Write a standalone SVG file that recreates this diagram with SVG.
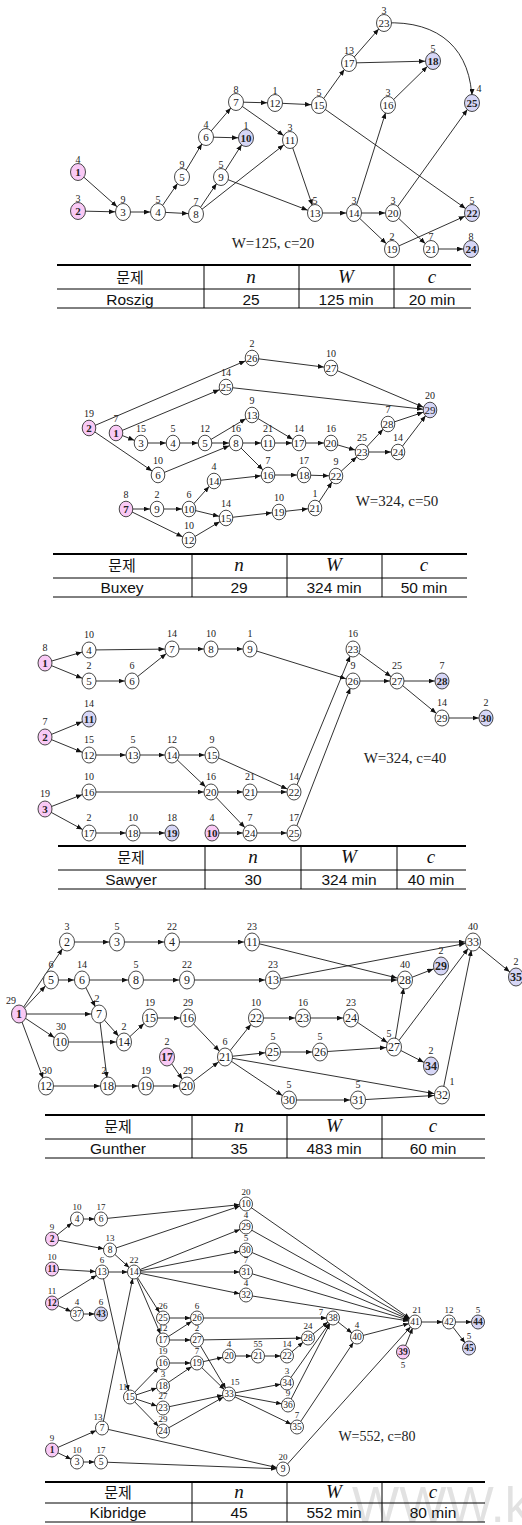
<svg xmlns="http://www.w3.org/2000/svg" width="522" height="1525" viewBox="0 0 522 1525">
<style>
.e line,.e path{stroke:#1a1a1a;stroke-width:0.9;fill:none}
.c1 line,.c1 path{marker-end:url(#m1)}
.c2 line{marker-end:url(#m2)}
.c3 line{marker-end:url(#m3)}
.c4 line{marker-end:url(#m4)}
.c5 line{marker-end:url(#m5)}
ellipse{fill:#fff;stroke:#333;stroke-width:0.9}
ellipse.p{fill:#f9c9f5}
ellipse.b{fill:#d6d6f6}
.s1 ellipse{rx:7.5px;ry:8.5px}
.s2 ellipse{rx:6.8px;ry:7.8px}
.s3 ellipse{rx:7px;ry:8px}
.s4 ellipse{rx:7.5px;ry:9px}
.s5 ellipse{rx:6.5px;ry:7px}
.t{font-family:"Liberation Serif",serif;text-anchor:middle;fill:#222;font-size:11px}
.s4 .t{font-size:12px}
.s5 .t{font-size:9.5px}
.bd{font-weight:bold}
.w{font-family:"Liberation Serif",serif;text-anchor:middle;fill:#222;font-size:10px}
.s5 .w{font-size:9px}
.ttl{font-family:"Liberation Serif",serif;text-anchor:middle;fill:#222;font-size:15px}
.tl line{stroke:#000;stroke-width:1}
.tl .top{stroke-width:1.8}
.kr{font-family:"Noto Sans CJK KR",sans-serif;font-size:15px;text-anchor:middle;fill:#111}
.mi{font-family:"Liberation Serif",serif;font-style:italic;font-size:19px;text-anchor:middle;fill:#111}
.dt{font-family:"Liberation Sans",sans-serif;font-size:15.5px;text-anchor:middle;fill:#111}
.wm{font-family:"Liberation Sans",sans-serif;font-size:50px;fill:#e2e2e2}
</style>
<defs>
<marker id="m1" markerUnits="userSpaceOnUse" markerWidth="6" markerHeight="5" refX="14" refY="2.5" orient="auto"><path d="M0,0L6,2.5L0,5z" fill="#111"/></marker>
<marker id="m2" markerUnits="userSpaceOnUse" markerWidth="6" markerHeight="5" refX="13.3" refY="2.5" orient="auto"><path d="M0,0L6,2.5L0,5z" fill="#111"/></marker>
<marker id="m3" markerUnits="userSpaceOnUse" markerWidth="6" markerHeight="5" refX="13.5" refY="2.5" orient="auto"><path d="M0,0L6,2.5L0,5z" fill="#111"/></marker>
<marker id="m4" markerUnits="userSpaceOnUse" markerWidth="6" markerHeight="5" refX="14.2" refY="2.5" orient="auto"><path d="M0,0L6,2.5L0,5z" fill="#111"/></marker>
<marker id="m5" markerUnits="userSpaceOnUse" markerWidth="5.5" markerHeight="4.5" refX="12" refY="2.25" orient="auto"><path d="M0,0L5.5,2.25L0,4.5z" fill="#111"/></marker>
</defs>
<rect width="522" height="1525" fill="#fff"/>
<text class="wm" x="352" y="1522">WWW.k</text>

<!-- ===== Section 1: Roszig ===== -->
<g id="roszig-connectors" class="e c1">
<line x1="78" y1="172" x2="123" y2="212"/>
<line x1="78" y1="211" x2="123" y2="212"/>
<line x1="123" y1="212" x2="158" y2="212"/>
<line x1="158" y1="212" x2="182" y2="177"/>
<line x1="158" y1="212" x2="196" y2="214"/>
<line x1="182" y1="177" x2="206" y2="137"/>
<line x1="206" y1="137" x2="236" y2="102"/>
<line x1="206" y1="137" x2="246" y2="138"/>
<line x1="236" y1="102" x2="275" y2="103"/>
<line x1="236" y1="102" x2="290" y2="140"/>
<line x1="196" y1="214" x2="221" y2="177"/>
<line x1="196" y1="214" x2="290" y2="140"/>
<line x1="221" y1="177" x2="246" y2="138"/>
<line x1="221" y1="177" x2="315" y2="213"/>
<line x1="290" y1="140" x2="315" y2="213"/>
<line x1="275" y1="103" x2="319" y2="105"/>
<line x1="315" y1="213" x2="354" y2="213"/>
<line x1="354" y1="213" x2="388" y2="105"/>
<line x1="354" y1="213" x2="393" y2="213"/>
<line x1="354" y1="213" x2="392" y2="249"/>
<line x1="319" y1="105" x2="349" y2="63"/>
<line x1="319" y1="105" x2="472" y2="213"/>
<line x1="349" y1="63" x2="384" y2="23"/>
<line x1="349" y1="63" x2="433" y2="61"/>
<line x1="388" y1="105" x2="433" y2="61"/>
<line x1="393" y1="213" x2="472" y2="103"/>
<line x1="393" y1="213" x2="431" y2="249"/>
<line x1="392" y1="249" x2="472" y2="213"/>
<line x1="431" y1="249" x2="471" y2="249"/>
<path d="M384,23 C440,20 472,50 472,103"/>
</g>
<g class="s1">
<g id="r1"><ellipse class="p" cx="78" cy="172"/><text class="t bd" x="78" y="176">1</text><text class="w" x="78" y="162.5">4</text></g>
<g id="r2"><ellipse class="p" cx="78" cy="211"/><text class="t bd" x="78" y="215">2</text><text class="w" x="78" y="201.5">3</text></g>
<g id="r3"><ellipse cx="123" cy="212"/><text class="t" x="123" y="216">3</text><text class="w" x="123" y="202.5">9</text></g>
<g id="r4"><ellipse cx="158" cy="212"/><text class="t" x="158" y="216">4</text><text class="w" x="158" y="202.5">5</text></g>
<g id="r5"><ellipse cx="182" cy="177"/><text class="t" x="182" y="181">5</text><text class="w" x="182" y="167.5">9</text></g>
<g id="r6"><ellipse cx="206" cy="137"/><text class="t" x="206" y="141">6</text><text class="w" x="206" y="127.5">4</text></g>
<g id="r7"><ellipse cx="236" cy="102"/><text class="t" x="236" y="106">7</text><text class="w" x="236" y="92.5">8</text></g>
<g id="r8"><ellipse cx="196" cy="214"/><text class="t" x="196" y="218">8</text><text class="w" x="196" y="204.5">7</text></g>
<g id="r9"><ellipse cx="221" cy="177"/><text class="t" x="221" y="181">9</text><text class="w" x="221" y="167.5">5</text></g>
<g id="r10"><ellipse class="b" cx="246" cy="138"/><text class="t bd" x="246" y="142">10</text><text class="w" x="246" y="128.5">1</text></g>
<g id="r11"><ellipse cx="290" cy="140"/><text class="t" x="290" y="144">11</text><text class="w" x="290" y="130.5">3</text></g>
<g id="r12"><ellipse cx="275" cy="103"/><text class="t" x="275" y="107">12</text><text class="w" x="275" y="93.5">1</text></g>
<g id="r13"><ellipse cx="315" cy="213"/><text class="t" x="315" y="217">13</text><text class="w" x="315" y="203.5">5</text></g>
<g id="r14"><ellipse cx="354" cy="213"/><text class="t" x="354" y="217">14</text><text class="w" x="354" y="203.5">3</text></g>
<g id="r15"><ellipse cx="319" cy="105"/><text class="t" x="319" y="109">15</text><text class="w" x="319" y="95.5">5</text></g>
<g id="r16"><ellipse cx="388" cy="105"/><text class="t" x="388" y="109">16</text><text class="w" x="388" y="95.5">3</text></g>
<g id="r17"><ellipse cx="349" cy="63"/><text class="t" x="349" y="67">17</text><text class="w" x="349" y="53.5">13</text></g>
<g id="r18"><ellipse class="b" cx="433" cy="61"/><text class="t bd" x="433" y="65">18</text><text class="w" x="433" y="51.5">5</text></g>
<g id="r19"><ellipse cx="392" cy="249"/><text class="t" x="392" y="253">19</text><text class="w" x="392" y="239.5">2</text></g>
<g id="r20"><ellipse cx="393" cy="213"/><text class="t" x="393" y="217">20</text><text class="w" x="393" y="203.5">3</text></g>
<g id="r21"><ellipse cx="431" cy="249"/><text class="t" x="431" y="253">21</text><text class="w" x="431" y="239.5">7</text></g>
<g id="r22"><ellipse class="b" cx="472" cy="213"/><text class="t bd" x="472" y="217">22</text><text class="w" x="472" y="203.5">5</text></g>
<g id="r23"><ellipse cx="384" cy="23"/><text class="t" x="384" y="27">23</text><text class="w" x="384" y="13.5">3</text></g>
<g id="r24"><ellipse class="b" cx="471" cy="249"/><text class="t bd" x="471" y="253">24</text><text class="w" x="471" y="239.5">8</text></g>
<g id="r25"><ellipse class="b" cx="472" cy="103"/><text class="t bd" x="472" y="107">25</text><text class="w" x="479" y="92">4</text></g>
</g>
<text class="ttl" x="273" y="248">W=125, c=20</text>
<g id="table-roszig" class="tl">
<line class="top" x1="57" y1="265" x2="471" y2="265"/>
<line x1="57" y1="289" x2="471" y2="289"/>
<line x1="57" y1="308" x2="471" y2="308"/>
<line x1="204" y1="265" x2="204" y2="308"/>
<line x1="299" y1="265" x2="299" y2="308"/>
<line x1="394" y1="265" x2="394" y2="308"/>
<text class="kr" x="130" y="283">문제</text><text class="mi" x="251" y="283">n</text><text class="mi" x="346" y="283">W</text><text class="mi" x="432" y="283">c</text>
<text class="dt" x="130" y="305">Roszig</text><text class="dt" x="251" y="305">25</text><text class="dt" x="346" y="305">125 min</text><text class="dt" x="432" y="305">20 min</text>
</g>

<!-- ===== Section 2: Buxey ===== -->
<g id="buxey-connectors" class="e c2">
<line x1="89" y1="428" x2="252" y2="358"/>
<line x1="89" y1="428" x2="158" y2="475"/>
<line x1="116" y1="433" x2="226" y2="387"/>
<line x1="116" y1="433" x2="141" y2="443"/>
<line x1="141" y1="443" x2="173" y2="443"/>
<line x1="173" y1="443" x2="205" y2="443"/>
<line x1="205" y1="443" x2="252" y2="415"/>
<line x1="205" y1="443" x2="236" y2="443"/>
<line x1="158" y1="475" x2="236" y2="443"/>
<line x1="236" y1="443" x2="268" y2="443"/>
<line x1="236" y1="443" x2="268" y2="475"/>
<line x1="252" y1="415" x2="299" y2="443"/>
<line x1="268" y1="443" x2="299" y2="443"/>
<line x1="299" y1="443" x2="331" y2="443"/>
<line x1="331" y1="443" x2="362" y2="452"/>
<line x1="268" y1="475" x2="304" y2="475"/>
<line x1="304" y1="475" x2="336" y2="476"/>
<line x1="214" y1="481" x2="268" y2="475"/>
<line x1="189" y1="509" x2="214" y2="481"/>
<line x1="189" y1="509" x2="226" y2="518"/>
<line x1="157" y1="509" x2="189" y2="509"/>
<line x1="126" y1="509" x2="157" y2="509"/>
<line x1="126" y1="509" x2="189" y2="540"/>
<line x1="189" y1="540" x2="226" y2="518"/>
<line x1="226" y1="518" x2="279" y2="512"/>
<line x1="279" y1="512" x2="315" y2="508"/>
<line x1="315" y1="508" x2="336" y2="476"/>
<line x1="336" y1="476" x2="362" y2="452"/>
<line x1="362" y1="452" x2="388" y2="424"/>
<line x1="362" y1="452" x2="398" y2="452"/>
<line x1="388" y1="424" x2="430" y2="410"/>
<line x1="398" y1="452" x2="430" y2="410"/>
<line x1="252" y1="358" x2="331" y2="368"/>
<line x1="331" y1="368" x2="430" y2="410"/>
<line x1="226" y1="387" x2="430" y2="410"/>
</g>
<g class="s2">
<g id="b2"><ellipse class="p" cx="89" cy="428"/><text class="t bd" x="89" y="432">2</text><text class="w" x="89" y="416.5">19</text></g>
<g id="b1"><ellipse class="p" cx="116" cy="433"/><text class="t bd" x="116" y="437">1</text><text class="w" x="116" y="421.5">7</text></g>
<g id="b3"><ellipse cx="141" cy="443"/><text class="t" x="141" y="447">3</text><text class="w" x="141" y="431.5">15</text></g>
<g id="b4"><ellipse cx="173" cy="443"/><text class="t" x="173" y="447">4</text><text class="w" x="173" y="431.5">5</text></g>
<g id="b5"><ellipse cx="205" cy="443"/><text class="t" x="205" y="447">5</text><text class="w" x="205" y="431.5">12</text></g>
<g id="b8"><ellipse cx="236" cy="443"/><text class="t" x="236" y="447">8</text><text class="w" x="236" y="431.5">16</text></g>
<g id="b11"><ellipse cx="268" cy="443"/><text class="t" x="268" y="447">11</text><text class="w" x="268" y="431.5">21</text></g>
<g id="b13"><ellipse cx="252" cy="415"/><text class="t" x="252" y="419">13</text><text class="w" x="252" y="403.5">9</text></g>
<g id="b26"><ellipse cx="252" cy="358"/><text class="t" x="252" y="362">26</text><text class="w" x="252" y="346.5">2</text></g>
<g id="b25"><ellipse cx="226" cy="387"/><text class="t" x="226" y="391">25</text><text class="w" x="226" y="375.5">14</text></g>
<g id="b6"><ellipse cx="158" cy="475"/><text class="t" x="158" y="479">6</text><text class="w" x="158" y="463.5">10</text></g>
<g id="b14"><ellipse cx="214" cy="481"/><text class="t" x="214" y="485">14</text><text class="w" x="214" y="469.5">4</text></g>
<g id="b16"><ellipse cx="268" cy="475"/><text class="t" x="268" y="479">16</text><text class="w" x="268" y="463.5">7</text></g>
<g id="b7"><ellipse class="p" cx="126" cy="509"/><text class="t bd" x="126" y="513">7</text><text class="w" x="126" y="497.5">8</text></g>
<g id="b9"><ellipse cx="157" cy="509"/><text class="t" x="157" y="513">9</text><text class="w" x="157" y="497.5">2</text></g>
<g id="b10"><ellipse cx="189" cy="509"/><text class="t" x="189" y="513">10</text><text class="w" x="189" y="497.5">6</text></g>
<g id="b15"><ellipse cx="226" cy="518"/><text class="t" x="226" y="522">15</text><text class="w" x="226" y="506.5">14</text></g>
<g id="b19"><ellipse cx="279" cy="512"/><text class="t" x="279" y="516">19</text><text class="w" x="279" y="500.5">10</text></g>
<g id="b12"><ellipse cx="189" cy="540"/><text class="t" x="189" y="544">12</text><text class="w" x="189" y="528.5">10</text></g>
<g id="b27"><ellipse cx="331" cy="368"/><text class="t" x="331" y="372">27</text><text class="w" x="331" y="356.5">10</text></g>
<g id="b29"><ellipse class="b" cx="430" cy="410"/><text class="t" x="430" y="414">29</text><text class="w" x="430" y="398.5">20</text></g>
<g id="b28"><ellipse cx="388" cy="424"/><text class="t" x="388" y="428">28</text><text class="w" x="388" y="412.5">7</text></g>
<g id="b17"><ellipse cx="299" cy="443"/><text class="t" x="299" y="447">17</text><text class="w" x="299" y="431.5">14</text></g>
<g id="b20"><ellipse cx="331" cy="443"/><text class="t" x="331" y="447">20</text><text class="w" x="331" y="431.5">16</text></g>
<g id="b23"><ellipse cx="362" cy="452"/><text class="t" x="362" y="456">23</text><text class="w" x="362" y="440.5">25</text></g>
<g id="b24"><ellipse cx="398" cy="452"/><text class="t" x="398" y="456">24</text><text class="w" x="398" y="440.5">14</text></g>
<g id="b18"><ellipse cx="304" cy="475"/><text class="t" x="304" y="479">18</text><text class="w" x="304" y="463.5">17</text></g>
<g id="b22"><ellipse cx="336" cy="476"/><text class="t" x="336" y="480">22</text><text class="w" x="336" y="464.5">9</text></g>
<g id="b21"><ellipse cx="315" cy="508"/><text class="t" x="315" y="512">21</text><text class="w" x="315" y="496.5">1</text></g>
</g>
<text class="ttl" x="397" y="506">W=324, c=50</text>
<g id="table-buxey" class="tl">
<line class="top" x1="53" y1="554" x2="467" y2="554"/>
<line x1="53" y1="578" x2="467" y2="578"/>
<line x1="53" y1="597" x2="467" y2="597"/>
<line x1="192" y1="554" x2="192" y2="597"/>
<line x1="287" y1="554" x2="287" y2="597"/>
<line x1="382" y1="554" x2="382" y2="597"/>
<text class="kr" x="122" y="571">문제</text><text class="mi" x="239" y="571">n</text><text class="mi" x="334" y="571">W</text><text class="mi" x="424" y="571">c</text>
<text class="dt" x="122" y="593">Buxey</text><text class="dt" x="239" y="593">29</text><text class="dt" x="334" y="593">324 min</text><text class="dt" x="424" y="593">50 min</text>
</g>

<!-- ===== Section 3: Sawyer ===== -->
<g id="sawyer-connectors" class="e c3">
<line x1="45" y1="663" x2="89" y2="650"/>
<line x1="45" y1="663" x2="89" y2="681"/>
<line x1="89" y1="650" x2="172" y2="649"/>
<line x1="89" y1="681" x2="132" y2="681"/>
<line x1="132" y1="681" x2="172" y2="649"/>
<line x1="172" y1="649" x2="211" y2="649"/>
<line x1="211" y1="649" x2="250" y2="649"/>
<line x1="250" y1="649" x2="353" y2="681"/>
<line x1="45" y1="737" x2="89" y2="719"/>
<line x1="45" y1="737" x2="89" y2="755"/>
<line x1="89" y1="755" x2="133" y2="755"/>
<line x1="133" y1="755" x2="172" y2="755"/>
<line x1="172" y1="755" x2="212" y2="755"/>
<line x1="172" y1="755" x2="211" y2="792"/>
<line x1="212" y1="755" x2="294" y2="792"/>
<line x1="45" y1="809" x2="89" y2="792"/>
<line x1="45" y1="809" x2="89" y2="833"/>
<line x1="89" y1="792" x2="211" y2="792"/>
<line x1="211" y1="792" x2="250" y2="792"/>
<line x1="250" y1="792" x2="294" y2="792"/>
<line x1="211" y1="792" x2="250" y2="833"/>
<line x1="89" y1="833" x2="133" y2="833"/>
<line x1="133" y1="833" x2="172" y2="833"/>
<line x1="212" y1="833" x2="250" y2="833"/>
<line x1="250" y1="833" x2="294" y2="833"/>
<line x1="294" y1="792" x2="353" y2="649"/>
<line x1="294" y1="833" x2="353" y2="681"/>
<line x1="353" y1="649" x2="397" y2="681"/>
<line x1="353" y1="681" x2="397" y2="681"/>
<line x1="397" y1="681" x2="442" y2="681"/>
<line x1="397" y1="681" x2="442" y2="718"/>
<line x1="442" y1="718" x2="486" y2="718"/>
</g>
<g class="s3">
<g id="x1"><ellipse class="p" cx="45" cy="663"/><text class="t bd" x="45" y="667">1</text><text class="w" x="45" y="651">8</text></g>
<g id="x4"><ellipse cx="89" cy="650"/><text class="t" x="89" y="654">4</text><text class="w" x="89" y="638">10</text></g>
<g id="x5"><ellipse cx="89" cy="681"/><text class="t" x="89" y="685">5</text><text class="w" x="89" y="669">2</text></g>
<g id="x6"><ellipse cx="132" cy="681"/><text class="t" x="132" y="685">6</text><text class="w" x="132" y="669">6</text></g>
<g id="x7"><ellipse cx="172" cy="649"/><text class="t" x="172" y="653">7</text><text class="w" x="172" y="637">14</text></g>
<g id="x8"><ellipse cx="211" cy="649"/><text class="t" x="211" y="653">8</text><text class="w" x="211" y="637">10</text></g>
<g id="x9"><ellipse cx="250" cy="649"/><text class="t" x="250" y="653">9</text><text class="w" x="250" y="637">1</text></g>
<g id="x2"><ellipse class="p" cx="45" cy="737"/><text class="t bd" x="45" y="741">2</text><text class="w" x="45" y="725">7</text></g>
<g id="x11"><ellipse class="b" cx="89" cy="719"/><text class="t bd" x="89" y="723">11</text><text class="w" x="89" y="707">14</text></g>
<g id="x12"><ellipse cx="89" cy="755"/><text class="t" x="89" y="759">12</text><text class="w" x="89" y="743">15</text></g>
<g id="x13"><ellipse cx="133" cy="755"/><text class="t" x="133" y="759">13</text><text class="w" x="133" y="743">5</text></g>
<g id="x14"><ellipse cx="172" cy="755"/><text class="t" x="172" y="759">14</text><text class="w" x="172" y="743">12</text></g>
<g id="x15"><ellipse cx="212" cy="755"/><text class="t" x="212" y="759">15</text><text class="w" x="212" y="743">9</text></g>
<g id="x3"><ellipse class="p" cx="45" cy="809"/><text class="t bd" x="45" y="813">3</text><text class="w" x="45" y="797">19</text></g>
<g id="x16"><ellipse cx="89" cy="792"/><text class="t" x="89" y="796">16</text><text class="w" x="89" y="780">10</text></g>
<g id="x20"><ellipse cx="211" cy="792"/><text class="t" x="211" y="796">20</text><text class="w" x="211" y="780">16</text></g>
<g id="x21"><ellipse cx="250" cy="792"/><text class="t" x="250" y="796">21</text><text class="w" x="250" y="780">21</text></g>
<g id="x17"><ellipse cx="89" cy="833"/><text class="t" x="89" y="837">17</text><text class="w" x="89" y="821">2</text></g>
<g id="x18"><ellipse cx="133" cy="833"/><text class="t" x="133" y="837">18</text><text class="w" x="133" y="821">10</text></g>
<g id="x19"><ellipse class="b" cx="172" cy="833"/><text class="t bd" x="172" y="837">19</text><text class="w" x="172" y="821">18</text></g>
<g id="x10"><ellipse class="p" cx="212" cy="833"/><text class="t bd" x="212" y="837">10</text><text class="w" x="212" y="821">4</text></g>
<g id="x24"><ellipse cx="250" cy="833"/><text class="t" x="250" y="837">24</text><text class="w" x="250" y="821">7</text></g>
<g id="x22"><ellipse cx="294" cy="792"/><text class="t" x="294" y="796">22</text><text class="w" x="294" y="780">14</text></g>
<g id="x25"><ellipse cx="294" cy="833"/><text class="t" x="294" y="837">25</text><text class="w" x="294" y="821">17</text></g>
<g id="x23"><ellipse cx="353" cy="649"/><text class="t" x="353" y="653">23</text><text class="w" x="353" y="637">16</text></g>
<g id="x26"><ellipse cx="353" cy="681"/><text class="t" x="353" y="685">26</text><text class="w" x="353" y="669">9</text></g>
<g id="x27"><ellipse cx="397" cy="681"/><text class="t" x="397" y="685">27</text><text class="w" x="397" y="669">25</text></g>
<g id="x28"><ellipse class="b" cx="442" cy="681"/><text class="t bd" x="442" y="685">28</text><text class="w" x="442" y="669">7</text></g>
<g id="x29"><ellipse cx="442" cy="718"/><text class="t" x="442" y="722">29</text><text class="w" x="442" y="706">14</text></g>
<g id="x30"><ellipse class="b" cx="486" cy="718"/><text class="t bd" x="486" y="722">30</text><text class="w" x="486" y="706">2</text></g>
</g>
<text class="ttl" x="405" y="763">W=324, c=40</text>
<g id="table-sawyer" class="tl">
<line class="top" x1="58" y1="846" x2="466" y2="846"/>
<line x1="58" y1="870" x2="466" y2="870"/>
<line x1="58" y1="889" x2="466" y2="889"/>
<line x1="205" y1="846" x2="205" y2="889"/>
<line x1="301" y1="846" x2="301" y2="889"/>
<line x1="397" y1="846" x2="397" y2="889"/>
<text class="kr" x="131" y="863">문제</text><text class="mi" x="253" y="863">n</text><text class="mi" x="349" y="863">W</text><text class="mi" x="431" y="863">c</text>
<text class="dt" x="131" y="885">Sawyer</text><text class="dt" x="253" y="885">30</text><text class="dt" x="349" y="885">324 min</text><text class="dt" x="431" y="885">40 min</text>
</g>

<!-- ===== Section 4: Gunther ===== -->
<g id="gunther-connectors" class="e c4">
<line x1="19" y1="1014" x2="67" y2="942"/>
<line x1="19" y1="1014" x2="51" y2="980"/>
<line x1="19" y1="1014" x2="99" y2="1014"/>
<line x1="19" y1="1014" x2="61" y2="1042"/>
<line x1="19" y1="1014" x2="46" y2="1086"/>
<line x1="67" y1="942" x2="117" y2="942"/>
<line x1="117" y1="942" x2="172" y2="942"/>
<line x1="172" y1="942" x2="252" y2="942"/>
<line x1="51" y1="980" x2="82" y2="980"/>
<line x1="82" y1="980" x2="136" y2="980"/>
<line x1="82" y1="980" x2="99" y2="1014"/>
<line x1="136" y1="980" x2="187" y2="980"/>
<line x1="187" y1="980" x2="273" y2="980"/>
<line x1="99" y1="1014" x2="124" y2="1042"/>
<line x1="99" y1="1014" x2="108" y2="1086"/>
<line x1="61" y1="1042" x2="124" y2="1042"/>
<line x1="124" y1="1042" x2="150" y2="1018"/>
<line x1="150" y1="1018" x2="188" y2="1018"/>
<line x1="188" y1="1018" x2="225" y2="1057"/>
<line x1="46" y1="1086" x2="108" y2="1086"/>
<line x1="108" y1="1086" x2="146" y2="1086"/>
<line x1="146" y1="1086" x2="187" y2="1086"/>
<line x1="167" y1="1057" x2="187" y2="1086"/>
<line x1="187" y1="1086" x2="225" y2="1057"/>
<line x1="225" y1="1057" x2="256" y2="1018"/>
<line x1="225" y1="1057" x2="273" y2="1052"/>
<line x1="225" y1="1057" x2="442" y2="1095"/>
<line x1="225" y1="1057" x2="289" y2="1100"/>
<line x1="256" y1="1018" x2="303" y2="1018"/>
<line x1="303" y1="1018" x2="351" y2="1018"/>
<line x1="351" y1="1018" x2="394" y2="1047"/>
<line x1="273" y1="1052" x2="320" y2="1052"/>
<line x1="320" y1="1052" x2="394" y2="1047"/>
<line x1="394" y1="1047" x2="405" y2="980"/>
<line x1="394" y1="1047" x2="473" y2="942"/>
<line x1="394" y1="1047" x2="431" y2="1066"/>
<line x1="405" y1="980" x2="441" y2="966"/>
<line x1="273" y1="980" x2="405" y2="980"/>
<line x1="273" y1="980" x2="473" y2="942"/>
<line x1="252" y1="942" x2="473" y2="942"/>
<line x1="252" y1="942" x2="405" y2="980"/>
<line x1="289" y1="1100" x2="358" y2="1100"/>
<line x1="358" y1="1100" x2="442" y2="1095"/>
<line x1="442" y1="1095" x2="473" y2="942"/>
<line x1="473" y1="942" x2="516" y2="977"/>
</g>
<g class="s4">
<g id="g1"><ellipse class="p" cx="19" cy="1014"/><text class="t bd" x="19" y="1018">1</text><text class="w" x="11" y="1004">29</text></g>
<g id="g2"><ellipse cx="67" cy="942"/><text class="t" x="67" y="946">2</text><text class="w" x="67" y="929.5">3</text></g>
<g id="g3"><ellipse cx="117" cy="942"/><text class="t" x="117" y="946">3</text><text class="w" x="117" y="929.5">5</text></g>
<g id="g4"><ellipse cx="172" cy="942"/><text class="t" x="172" y="946">4</text><text class="w" x="172" y="929.5">22</text></g>
<g id="g11"><ellipse cx="252" cy="942"/><text class="t" x="252" y="946">11</text><text class="w" x="252" y="929.5">23</text></g>
<g id="g5"><ellipse cx="51" cy="980"/><text class="t" x="51" y="984">5</text><text class="w" x="51" y="967.5">6</text></g>
<g id="g6"><ellipse cx="82" cy="980"/><text class="t" x="82" y="984">6</text><text class="w" x="82" y="967.5">14</text></g>
<g id="g8"><ellipse cx="136" cy="980"/><text class="t" x="136" y="984">8</text><text class="w" x="136" y="967.5">5</text></g>
<g id="g9"><ellipse cx="187" cy="980"/><text class="t" x="187" y="984">9</text><text class="w" x="187" y="967.5">22</text></g>
<g id="g13"><ellipse cx="273" cy="980"/><text class="t" x="273" y="984">13</text><text class="w" x="273" y="967.5">23</text></g>
<g id="g7"><ellipse cx="99" cy="1014"/><text class="t" x="99" y="1018">7</text><text class="w" x="97" y="1001.5">2</text></g>
<g id="g10"><ellipse cx="61" cy="1042"/><text class="t" x="61" y="1046">10</text><text class="w" x="61" y="1029.5">30</text></g>
<g id="g14"><ellipse cx="124" cy="1042"/><text class="t" x="124" y="1046">14</text><text class="w" x="124" y="1029.5">2</text></g>
<g id="g15"><ellipse cx="150" cy="1018"/><text class="t" x="150" y="1022">15</text><text class="w" x="150" y="1005.5">19</text></g>
<g id="g16"><ellipse cx="188" cy="1018"/><text class="t" x="188" y="1022">16</text><text class="w" x="188" y="1005.5">29</text></g>
<g id="g17"><ellipse class="p" cx="167" cy="1057"/><text class="t bd" x="167" y="1061">17</text><text class="w" x="167" y="1044.5">2</text></g>
<g id="g21"><ellipse cx="225" cy="1057"/><text class="t" x="225" y="1061">21</text><text class="w" x="225" y="1044.5">6</text></g>
<g id="g22"><ellipse cx="256" cy="1018"/><text class="t" x="256" y="1022">22</text><text class="w" x="256" y="1005.5">10</text></g>
<g id="g23"><ellipse cx="303" cy="1018"/><text class="t" x="303" y="1022">23</text><text class="w" x="303" y="1005.5">16</text></g>
<g id="g24"><ellipse cx="351" cy="1018"/><text class="t" x="351" y="1022">24</text><text class="w" x="351" y="1005.5">23</text></g>
<g id="g27"><ellipse cx="394" cy="1047"/><text class="t" x="394" y="1051">27</text><text class="w" x="389" y="1036.5">5</text></g>
<g id="g25"><ellipse cx="273" cy="1052"/><text class="t" x="273" y="1056">25</text><text class="w" x="273" y="1039.5">5</text></g>
<g id="g26"><ellipse cx="320" cy="1052"/><text class="t" x="320" y="1056">26</text><text class="w" x="320" y="1039.5">5</text></g>
<g id="g34"><ellipse class="b" cx="431" cy="1066"/><text class="t bd" x="431" y="1070">34</text><text class="w" x="431" y="1053.5">2</text></g>
<g id="g12"><ellipse cx="46" cy="1086"/><text class="t" x="46" y="1090">12</text><text class="w" x="47" y="1073.5">30</text></g>
<g id="g18"><ellipse cx="108" cy="1086"/><text class="t" x="108" y="1090">18</text><text class="w" x="104" y="1073.5">2</text></g>
<g id="g19"><ellipse cx="146" cy="1086"/><text class="t" x="146" y="1090">19</text><text class="w" x="146" y="1073.5">19</text></g>
<g id="g20"><ellipse cx="187" cy="1086"/><text class="t" x="187" y="1090">20</text><text class="w" x="188" y="1073.5">29</text></g>
<g id="g30"><ellipse cx="289" cy="1100"/><text class="t" x="289" y="1104">30</text><text class="w" x="289" y="1087.5">5</text></g>
<g id="g31"><ellipse cx="358" cy="1100"/><text class="t" x="358" y="1104">31</text><text class="w" x="358" y="1087.5">5</text></g>
<g id="g32"><ellipse cx="442" cy="1095"/><text class="t" x="442" y="1099">32</text><text class="w" x="452" y="1085">1</text></g>
<g id="g28"><ellipse cx="405" cy="980"/><text class="t" x="405" y="984">28</text><text class="w" x="405" y="967.5">40</text></g>
<g id="g29"><ellipse class="b" cx="441" cy="966"/><text class="t bd" x="441" y="970">29</text><text class="w" x="441" y="953.5">2</text></g>
<g id="g33"><ellipse cx="473" cy="942"/><text class="t" x="473" y="946">33</text><text class="w" x="473" y="929.5">40</text></g>
<g id="g35"><ellipse class="b" cx="516" cy="977"/><text class="t bd" x="516" y="981">35</text><text class="w" x="516" y="964.5">2</text></g>
</g>
<g id="table-gunther" class="tl">
<line class="top" x1="45" y1="1115" x2="485" y2="1115"/>
<line x1="45" y1="1139" x2="485" y2="1139"/>
<line x1="45" y1="1158" x2="485" y2="1158"/>
<line x1="192" y1="1115" x2="192" y2="1158"/>
<line x1="287" y1="1115" x2="287" y2="1158"/>
<line x1="382" y1="1115" x2="382" y2="1158"/>
<text class="kr" x="118" y="1132">문제</text><text class="mi" x="239" y="1132">n</text><text class="mi" x="334" y="1132">W</text><text class="mi" x="433" y="1132">c</text>
<text class="dt" x="118" y="1154">Gunther</text><text class="dt" x="239" y="1154">35</text><text class="dt" x="334" y="1154">483 min</text><text class="dt" x="433" y="1154">60 min</text>
</g>

<!-- ===== Section 5: Kibridge ===== -->
<g id="kibridge-connectors" class="e c5">
<line x1="52" y1="1239" x2="77" y2="1219"/>
<line x1="77" y1="1219" x2="101" y2="1219"/>
<line x1="101" y1="1219" x2="246" y2="1204"/>
<line x1="52" y1="1239" x2="110" y2="1250"/>
<line x1="110" y1="1250" x2="246" y2="1204"/>
<line x1="110" y1="1250" x2="134" y2="1272"/>
<line x1="52" y1="1269" x2="102" y2="1272"/>
<line x1="52" y1="1303" x2="102" y2="1272"/>
<line x1="102" y1="1272" x2="134" y2="1272"/>
<line x1="52" y1="1303" x2="77" y2="1314"/>
<line x1="77" y1="1314" x2="101" y2="1314"/>
<line x1="102" y1="1272" x2="130" y2="1397"/>
<line x1="102" y1="1428" x2="134" y2="1272"/>
<line x1="52" y1="1450" x2="102" y2="1428"/>
<line x1="52" y1="1450" x2="77" y2="1462"/>
<line x1="77" y1="1462" x2="101" y2="1462"/>
<line x1="101" y1="1462" x2="283" y2="1469"/>
<line x1="102" y1="1428" x2="283" y2="1469"/>
<line x1="134" y1="1272" x2="246" y2="1227"/>
<line x1="134" y1="1272" x2="246" y2="1250"/>
<line x1="134" y1="1272" x2="246" y2="1272"/>
<line x1="134" y1="1272" x2="246" y2="1295"/>
<line x1="134" y1="1272" x2="163" y2="1318"/>
<line x1="134" y1="1272" x2="163" y2="1340"/>
<line x1="163" y1="1318" x2="197" y2="1318"/>
<line x1="163" y1="1340" x2="197" y2="1318"/>
<line x1="163" y1="1340" x2="197" y2="1340"/>
<line x1="197" y1="1340" x2="229" y2="1394"/>
<line x1="163" y1="1363" x2="197" y2="1363"/>
<line x1="163" y1="1386" x2="197" y2="1363"/>
<line x1="197" y1="1363" x2="229" y2="1356"/>
<line x1="197" y1="1363" x2="229" y2="1394"/>
<line x1="229" y1="1356" x2="258" y2="1356"/>
<line x1="258" y1="1356" x2="287" y2="1356"/>
<line x1="287" y1="1356" x2="308" y2="1338"/>
<line x1="308" y1="1338" x2="333" y2="1318"/>
<line x1="130" y1="1397" x2="163" y2="1363"/>
<line x1="130" y1="1397" x2="163" y2="1386"/>
<line x1="130" y1="1397" x2="163" y2="1408"/>
<line x1="130" y1="1397" x2="163" y2="1431"/>
<line x1="163" y1="1408" x2="229" y2="1394"/>
<line x1="163" y1="1431" x2="229" y2="1394"/>
<line x1="229" y1="1394" x2="287" y2="1383"/>
<line x1="229" y1="1394" x2="288" y2="1405"/>
<line x1="229" y1="1394" x2="297" y2="1427"/>
<line x1="287" y1="1383" x2="333" y2="1318"/>
<line x1="288" y1="1405" x2="333" y2="1318"/>
<line x1="297" y1="1427" x2="357" y2="1337"/>
<line x1="333" y1="1318" x2="357" y2="1337"/>
<line x1="357" y1="1337" x2="415" y2="1322"/>
<line x1="197" y1="1318" x2="333" y2="1318"/>
<line x1="197" y1="1340" x2="308" y2="1338"/>
<line x1="246" y1="1204" x2="415" y2="1322"/>
<line x1="246" y1="1227" x2="415" y2="1322"/>
<line x1="246" y1="1250" x2="415" y2="1322"/>
<line x1="246" y1="1272" x2="415" y2="1322"/>
<line x1="246" y1="1295" x2="415" y2="1322"/>
<line x1="283" y1="1469" x2="415" y2="1322"/>
<line x1="403" y1="1352" x2="415" y2="1322"/>
<line x1="415" y1="1322" x2="449" y2="1322"/>
<line x1="449" y1="1322" x2="478" y2="1322"/>
<line x1="449" y1="1322" x2="469" y2="1348"/>
</g>
<g class="s5">
<g id="k2"><ellipse class="p" cx="52" cy="1239"/><text class="t bd" x="52" y="1242.3">2</text><text class="w" x="52" y="1230">9</text></g>
<g id="k4"><ellipse cx="77" cy="1219"/><text class="t" x="77" y="1222.3">4</text><text class="w" x="77" y="1210">10</text></g>
<g id="k6"><ellipse cx="101" cy="1219"/><text class="t" x="101" y="1222.3">6</text><text class="w" x="101" y="1210">17</text></g>
<g id="k8"><ellipse cx="110" cy="1250"/><text class="t" x="110" y="1253.3">8</text><text class="w" x="110" y="1241">13</text></g>
<g id="k10"><ellipse cx="246" cy="1204"/><text class="t" x="246" y="1207.3">10</text><text class="w" x="246" y="1195">20</text></g>
<g id="k29"><ellipse cx="246" cy="1227"/><text class="t" x="246" y="1230.3">29</text><text class="w" x="246" y="1218">4</text></g>
<g id="k30"><ellipse cx="246" cy="1250"/><text class="t" x="246" y="1253.3">30</text><text class="w" x="246" y="1241">5</text></g>
<g id="k31"><ellipse cx="246" cy="1272"/><text class="t" x="246" y="1275.3">31</text><text class="w" x="246" y="1263">7</text></g>
<g id="k32"><ellipse cx="246" cy="1295"/><text class="t" x="246" y="1298.3">32</text><text class="w" x="246" y="1286">4</text></g>
<g id="k11"><ellipse class="p" cx="52" cy="1269"/><text class="t bd" x="52" y="1272.3">11</text><text class="w" x="52" y="1260">10</text></g>
<g id="k13"><ellipse cx="102" cy="1272"/><text class="t" x="102" y="1275.3">13</text><text class="w" x="102" y="1263">6</text></g>
<g id="k14"><ellipse cx="134" cy="1272"/><text class="t" x="134" y="1275.3">14</text><text class="w" x="134" y="1263">22</text></g>
<g id="k12"><ellipse class="p" cx="52" cy="1303"/><text class="t bd" x="52" y="1306.3">12</text><text class="w" x="52" y="1294">11</text></g>
<g id="k37"><ellipse cx="77" cy="1314"/><text class="t" x="77" y="1317.3">37</text><text class="w" x="77" y="1305">4</text></g>
<g id="k43"><ellipse class="b" cx="101" cy="1314"/><text class="t bd" x="101" y="1317.3">43</text><text class="w" x="101" y="1305">6</text></g>
<g id="k25"><ellipse cx="163" cy="1318"/><text class="t" x="163" y="1321.3">25</text><text class="w" x="163" y="1309">26</text></g>
<g id="k26"><ellipse cx="197" cy="1318"/><text class="t" x="197" y="1321.3">26</text><text class="w" x="197" y="1309">6</text></g>
<g id="k17"><ellipse cx="163" cy="1340"/><text class="t" x="163" y="1343.3">17</text><text class="w" x="163" y="1331">12</text></g>
<g id="k27"><ellipse cx="197" cy="1340"/><text class="t" x="197" y="1343.3">27</text><text class="w" x="197" y="1331">2</text></g>
<g id="k16"><ellipse cx="163" cy="1363"/><text class="t" x="163" y="1366.3">16</text><text class="w" x="163" y="1354">19</text></g>
<g id="k19"><ellipse cx="197" cy="1363"/><text class="t" x="197" y="1366.3">19</text><text class="w" x="197" y="1354">7</text></g>
<g id="k20"><ellipse cx="229" cy="1356"/><text class="t" x="229" y="1359.3">20</text><text class="w" x="229" y="1347">4</text></g>
<g id="k21"><ellipse cx="258" cy="1356"/><text class="t" x="258" y="1359.3">21</text><text class="w" x="258" y="1347">55</text></g>
<g id="k18"><ellipse cx="163" cy="1386"/><text class="t" x="163" y="1389.3">18</text><text class="w" x="163" y="1377">3</text></g>
<g id="k33"><ellipse cx="229" cy="1394"/><text class="t" x="229" y="1397.3">33</text><text class="w" x="235" y="1385">15</text></g>
<g id="k15"><ellipse cx="130" cy="1397"/><text class="t" x="130" y="1400.3">15</text><text class="w" x="123" y="1390">11</text></g>
<g id="k23"><ellipse cx="163" cy="1408"/><text class="t" x="163" y="1411.3">23</text><text class="w" x="163" y="1399">27</text></g>
<g id="k24"><ellipse cx="163" cy="1431"/><text class="t" x="163" y="1434.3">24</text><text class="w" x="163" y="1422">29</text></g>
<g id="k7"><ellipse cx="102" cy="1428"/><text class="t" x="102" y="1431.3">7</text><text class="w" x="98" y="1420">13</text></g>
<g id="k1"><ellipse class="p" cx="52" cy="1450"/><text class="t bd" x="52" y="1453.3">1</text><text class="w" x="52" y="1441">9</text></g>
<g id="k3"><ellipse cx="77" cy="1462"/><text class="t" x="77" y="1465.3">3</text><text class="w" x="77" y="1453">10</text></g>
<g id="k5"><ellipse cx="101" cy="1462"/><text class="t" x="101" y="1465.3">5</text><text class="w" x="101" y="1453">17</text></g>
<g id="k9"><ellipse cx="283" cy="1469"/><text class="t" x="283" y="1472.3">9</text><text class="w" x="283" y="1460">20</text></g>
<g id="k38"><ellipse cx="333" cy="1318"/><text class="t" x="333" y="1321.3">38</text><text class="w" x="321" y="1315">7</text></g>
<g id="k28"><ellipse cx="308" cy="1338"/><text class="t" x="308" y="1341.3">28</text><text class="w" x="308" y="1329">24</text></g>
<g id="k22"><ellipse cx="287" cy="1356"/><text class="t" x="287" y="1359.3">22</text><text class="w" x="287" y="1347">14</text></g>
<g id="k34"><ellipse cx="287" cy="1383"/><text class="t" x="287" y="1386.3">34</text><text class="w" x="287" y="1374">3</text></g>
<g id="k36"><ellipse cx="288" cy="1405"/><text class="t" x="288" y="1408.3">36</text><text class="w" x="288" y="1396">9</text></g>
<g id="k35"><ellipse cx="297" cy="1427"/><text class="t" x="297" y="1430.3">35</text><text class="w" x="297" y="1418">7</text></g>
<g id="k40"><ellipse cx="357" cy="1337"/><text class="t" x="357" y="1340.3">40</text><text class="w" x="357" y="1328">4</text></g>
<g id="k41"><ellipse cx="415" cy="1322"/><text class="t" x="415" y="1325.3">41</text><text class="w" x="417" y="1313">21</text></g>
<g id="k42"><ellipse cx="449" cy="1322"/><text class="t" x="449" y="1325.3">42</text><text class="w" x="449" y="1313">12</text></g>
<g id="k44"><ellipse class="b" cx="478" cy="1322"/><text class="t bd" x="478" y="1325.3">44</text><text class="w" x="478" y="1313">5</text></g>
<g id="k45"><ellipse class="b" cx="469" cy="1348"/><text class="t bd" x="469" y="1351.3">45</text><text class="w" x="469" y="1339">5</text></g>
<g id="k39"><ellipse class="p" cx="403" cy="1352"/><text class="t bd" x="403" y="1355.3">39</text><text class="w" x="403" y="1368">5</text></g>
</g>
<text class="ttl" x="377" y="1441" style="font-size:14px">W=552, c=80</text>
<g id="table-kibridge" class="tl">
<line class="top" x1="45" y1="1482" x2="485" y2="1482"/>
<line x1="45" y1="1503" x2="485" y2="1503"/>
<line x1="45" y1="1522" x2="485" y2="1522"/>
<line x1="192" y1="1482" x2="192" y2="1522"/>
<line x1="287" y1="1482" x2="287" y2="1522"/>
<line x1="382" y1="1482" x2="382" y2="1522"/>
<text class="kr" x="118" y="1498">문제</text><text class="mi" x="239" y="1498">n</text><text class="mi" x="334" y="1498">W</text><text class="mi" x="433" y="1498">c</text>
<text class="dt" x="118" y="1518">Kibridge</text><text class="dt" x="239" y="1518">45</text><text class="dt" x="334" y="1518">552 min</text><text class="dt" x="433" y="1518">80 min</text>
</g>
</svg>
